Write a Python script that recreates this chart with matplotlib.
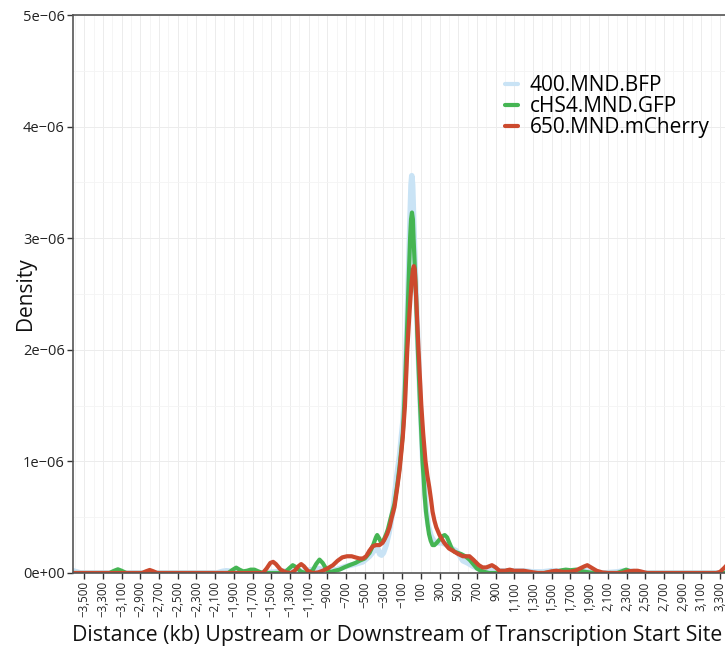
import matplotlib
matplotlib.use("Agg")
import matplotlib.pyplot as plt
from matplotlib.ticker import MultipleLocator, FixedLocator

plt.rcParams['font.family'] = ['Open Sans', 'DejaVu Sans']

# ---------------- data (density in units of 1e-6, distance in kb) ----------------
series_names = ["400.MND.BFP", "cHS4.MND.GFP", "650.MND.mCherry"]
series_colors = ["#c9e3f5", "#45b553", "#cc4a2e"]

bfp_pts = [(-3620, 0.02), (-3580, 0.01), (-3540, 0), (-2080, 0), (-2020, 0.015), (-1980, 0.02),
           (-1930, 0.015), (-1880, 0.01), (-1830, 0.005), (-1780, 0.0), (-1700, 0.01), (-1650, 0.005),
           (-1600, 0), (-1300, 0.02), (-1200, 0.01), (-1000, 0.04), (-900, 0.02), (-800, 0.03),
           (-700, 0.06), (-600, 0.08), (-520, 0.1), (-449, 0.15), (-400, 0.2), (-360, 0.22),
           (-340, 0.17), (-320, 0.16), (-300, 0.18), (-271, 0.25), (-240, 0.36), (-200, 0.55),
           (-160, 0.85), (-128, 1.05), (-93, 1.35), (-70, 1.7), (-45, 2.3), (-28, 2.8), (-15, 3.2),
           (-5, 3.48), (3, 3.56), (12, 3.48), (22, 3.2), (35, 2.85), (50, 2.5), (68, 2.05), (92, 1.55),
           (118, 1.05), (140, 0.75), (160, 0.55), (180, 0.42), (210, 0.33), (245, 0.28), (290, 0.27),
           (330, 0.27), (380, 0.25), (430, 0.22), (478, 0.2), (520, 0.15), (549, 0.11), (600, 0.09),
           (660, 0.06), (720, 0.04), (800, 0.02), (900, 0.02), (1000, 0.02), (1100, 0.02), (1200, 0.02),
           (1300, 0.01), (1400, 0.01), (1500, 0.02), (1560, 0.02), (1650, 0.01), (1750, 0.01),
           (1850, 0.02), (1950, 0.01), (2050, 0), (2200, 0.01), (2270, 0.02), (2320, 0.02),
           (2400, 0.01), (2500, 0), (3620, 0)]

gfp_pts = [(-3620, 0), (-3230, 0), (-3180, 0.02), (-3140, 0.033), (-3100, 0.02), (-3050, 0),
           (-1960, 0), (-1910, 0.03), (-1875, 0.048), (-1840, 0.03), (-1800, 0.015), (-1760, 0.02),
           (-1720, 0.03), (-1680, 0.03), (-1640, 0.015), (-1590, 0), (-1360, 0), (-1310, 0.04),
           (-1270, 0.07), (-1230, 0.05), (-1180, 0.01), (-1120, 0), (-1060, 0.02), (-1020, 0.08),
           (-984, 0.12), (-950, 0.09), (-900, 0.02), (-860, 0.01), (-820, 0.02), (-770, 0.03),
           (-720, 0.05), (-663, 0.07), (-600, 0.09), (-556, 0.11), (-500, 0.13), (-449, 0.18),
           (-410, 0.25), (-380, 0.32), (-367, 0.34), (-345, 0.31), (-324, 0.27), (-300, 0.29),
           (-270, 0.35), (-253, 0.39), (-220, 0.5), (-182, 0.62), (-150, 0.8), (-128, 0.95),
           (-110, 1.1), (-93, 1.25), (-78, 1.5), (-55, 2.0), (-35, 2.5), (-15, 3.0), (-5, 3.17),
           (5, 3.23), (15, 3.17), (22, 3.0), (35, 2.75), (48, 2.5), (68, 2.0), (80, 1.75), (92, 1.5),
           (105, 1.25), (118, 1.0), (130, 0.85), (140, 0.7), (155, 0.55), (170, 0.45), (187, 0.35),
           (205, 0.29), (225, 0.25), (245, 0.25), (270, 0.27), (300, 0.3), (330, 0.33), (355, 0.34),
           (380, 0.32), (405, 0.27), (430, 0.22), (460, 0.19), (495, 0.18), (530, 0.17), (575, 0.15),
           (620, 0.12), (660, 0.08), (700, 0.04), (740, 0.02), (780, 0.01), (830, 0), (900, 0),
           (960, 0.01), (1020, 0.02), (1080, 0.015), (1140, 0.005), (1200, 0), (1420, 0),
           (1500, 0.01), (1560, 0.015), (1610, 0.025), (1650, 0.03), (1700, 0.025), (1760, 0.03),
           (1800, 0.02), (1860, 0.01), (1950, 0), (2200, 0), (2250, 0.015), (2296, 0.03),
           (2340, 0.015), (2400, 0), (3620, 0)]

mch_pts = [(-3620, 0), (-2880, 0), (-2840, 0.015), (-2800, 0.027), (-2760, 0.015), (-2720, 0),
           (-1590, 0), (-1550, 0.04), (-1510, 0.09), (-1480, 0.10), (-1450, 0.08), (-1400, 0.03),
           (-1340, 0.005), (-1290, 0), (-1250, 0.02), (-1210, 0.06), (-1180, 0.08), (-1150, 0.06),
           (-1110, 0.02), (-1060, 0), (-1000, 0.005), (-950, 0.02), (-900, 0.04), (-840, 0.07),
           (-790, 0.11), (-740, 0.14), (-690, 0.15), (-640, 0.15), (-600, 0.14), (-556, 0.13),
           (-520, 0.13), (-485, 0.15), (-450, 0.2), (-414, 0.24), (-380, 0.25), (-342, 0.25),
           (-310, 0.27), (-289, 0.30), (-260, 0.35), (-235, 0.41), (-210, 0.5), (-182, 0.59),
           (-155, 0.75), (-128, 0.92), (-110, 1.07), (-93, 1.22), (-70, 1.5), (-45, 2.0),
           (-20, 2.35), (0, 2.6), (15, 2.72), (25, 2.75), (35, 2.72), (48, 2.5), (75, 2.0),
           (90, 1.75), (105, 1.5), (125, 1.25), (150, 1.0), (170, 0.87), (190, 0.77), (210, 0.65),
           (225, 0.55), (245, 0.47), (265, 0.41), (300, 0.34), (350, 0.27), (400, 0.22), (460, 0.19),
           (500, 0.17), (550, 0.15), (590, 0.15), (620, 0.15), (660, 0.12), (720, 0.07), (760, 0.05),
           (800, 0.05), (830, 0.06), (860, 0.07), (900, 0.05), (940, 0.02), (1000, 0.02),
           (1050, 0.03), (1100, 0.02), (1200, 0.02), (1270, 0.01), (1350, 0), (1420, 0),
           (1500, 0.015), (1550, 0.02), (1620, 0.01), (1680, 0.01), (1750, 0.02), (1800, 0.04),
           (1850, 0.06), (1880, 0.07), (1920, 0.05), (1980, 0.02), (2040, 0.005), (2100, 0),
           (2250, 0), (2320, 0.015), (2380, 0.02), (2420, 0.02), (2470, 0.01), (2520, 0),
           (3260, 0), (3300, 0.01), (3350, 0.05), (3400, 0.1), (3450, 0.12), (3620, 0.05)]

x_ticks = list(range(-3500, 3301, 200))
y_ticks = [0, 1, 2, 3, 4, 5]
y_tick_labels = ["0e+00", "1e\u221206", "2e\u221206", "3e\u221206", "4e\u221206", "5e\u221206"]
x_label = "Distance (kb) Upstream or Downstream of Transcription Start Site"
y_label = "Density"

# ---------------- figure ----------------
fig = plt.figure(figsize=(7.25, 6.5), dpi=100)
ax = fig.add_axes([73 / 725, 77 / 650, 677 / 725, 558 / 650])

widths = [4.0, 3.0, 3.0]
for pts, name, col, lw in zip([bfp_pts, gfp_pts, mch_pts], series_names, series_colors, widths):
    xs = [p[0] for p in pts]
    ys = [p[1] * 1e-6 for p in pts]
    ax.plot(xs, ys, color=col, lw=lw, label=name, solid_joinstyle='round', solid_capstyle='round')

ax.set_xlim(-3620, 3620)
ax.set_ylim(0, 5e-6)

ax.xaxis.set_major_locator(FixedLocator(x_ticks))
ax.set_xticklabels([f"{v:,}".replace("-", "\u2212") for v in x_ticks], rotation=90, fontsize=8.3)
ax.xaxis.set_minor_locator(MultipleLocator(100))
ax.set_yticks([v * 1e-6 for v in y_ticks])
ax.set_yticklabels(y_tick_labels, fontsize=10.5)
ax.yaxis.set_minor_locator(MultipleLocator(0.5e-6))

ax.grid(True, which='major', color='#ececec', lw=0.7)
ax.grid(True, which='minor', color='#f4f4f4', lw=0.6)
ax.set_axisbelow(True)
ax.tick_params(axis='both', which='major', length=4, width=1, color='#333333', labelcolor='#222222', pad=2)
ax.tick_params(axis='both', which='minor', length=0)

for s in ['left', 'bottom', 'top', 'right']:
    ax.spines[s].set_color('#555555')
    ax.spines[s].set_linewidth(1.2)

ax.set_xlabel(x_label, fontsize=15.3, color='#111111')
ax.xaxis.set_label_coords((397 - 73) / 677, -(635 - 573) / 558)
ax.xaxis.label.set_verticalalignment('center')
ax.set_ylabel(y_label, fontsize=15, color='#111111')
ax.yaxis.set_label_coords((25 - 73) / 677, 0.5)
ax.yaxis.label.set_verticalalignment('center')

leg = ax.legend(loc='upper left', bbox_to_anchor=((505 - 73) / 677, (573 - 75) / 558), frameon=False,
                fontsize=15, handlelength=0.6, handletextpad=0.6, labelspacing=0.0,
                borderaxespad=0, borderpad=0)
for h in leg.get_lines():
    h.set_linewidth(3)

fig.savefig("out.png", dpi=100)
